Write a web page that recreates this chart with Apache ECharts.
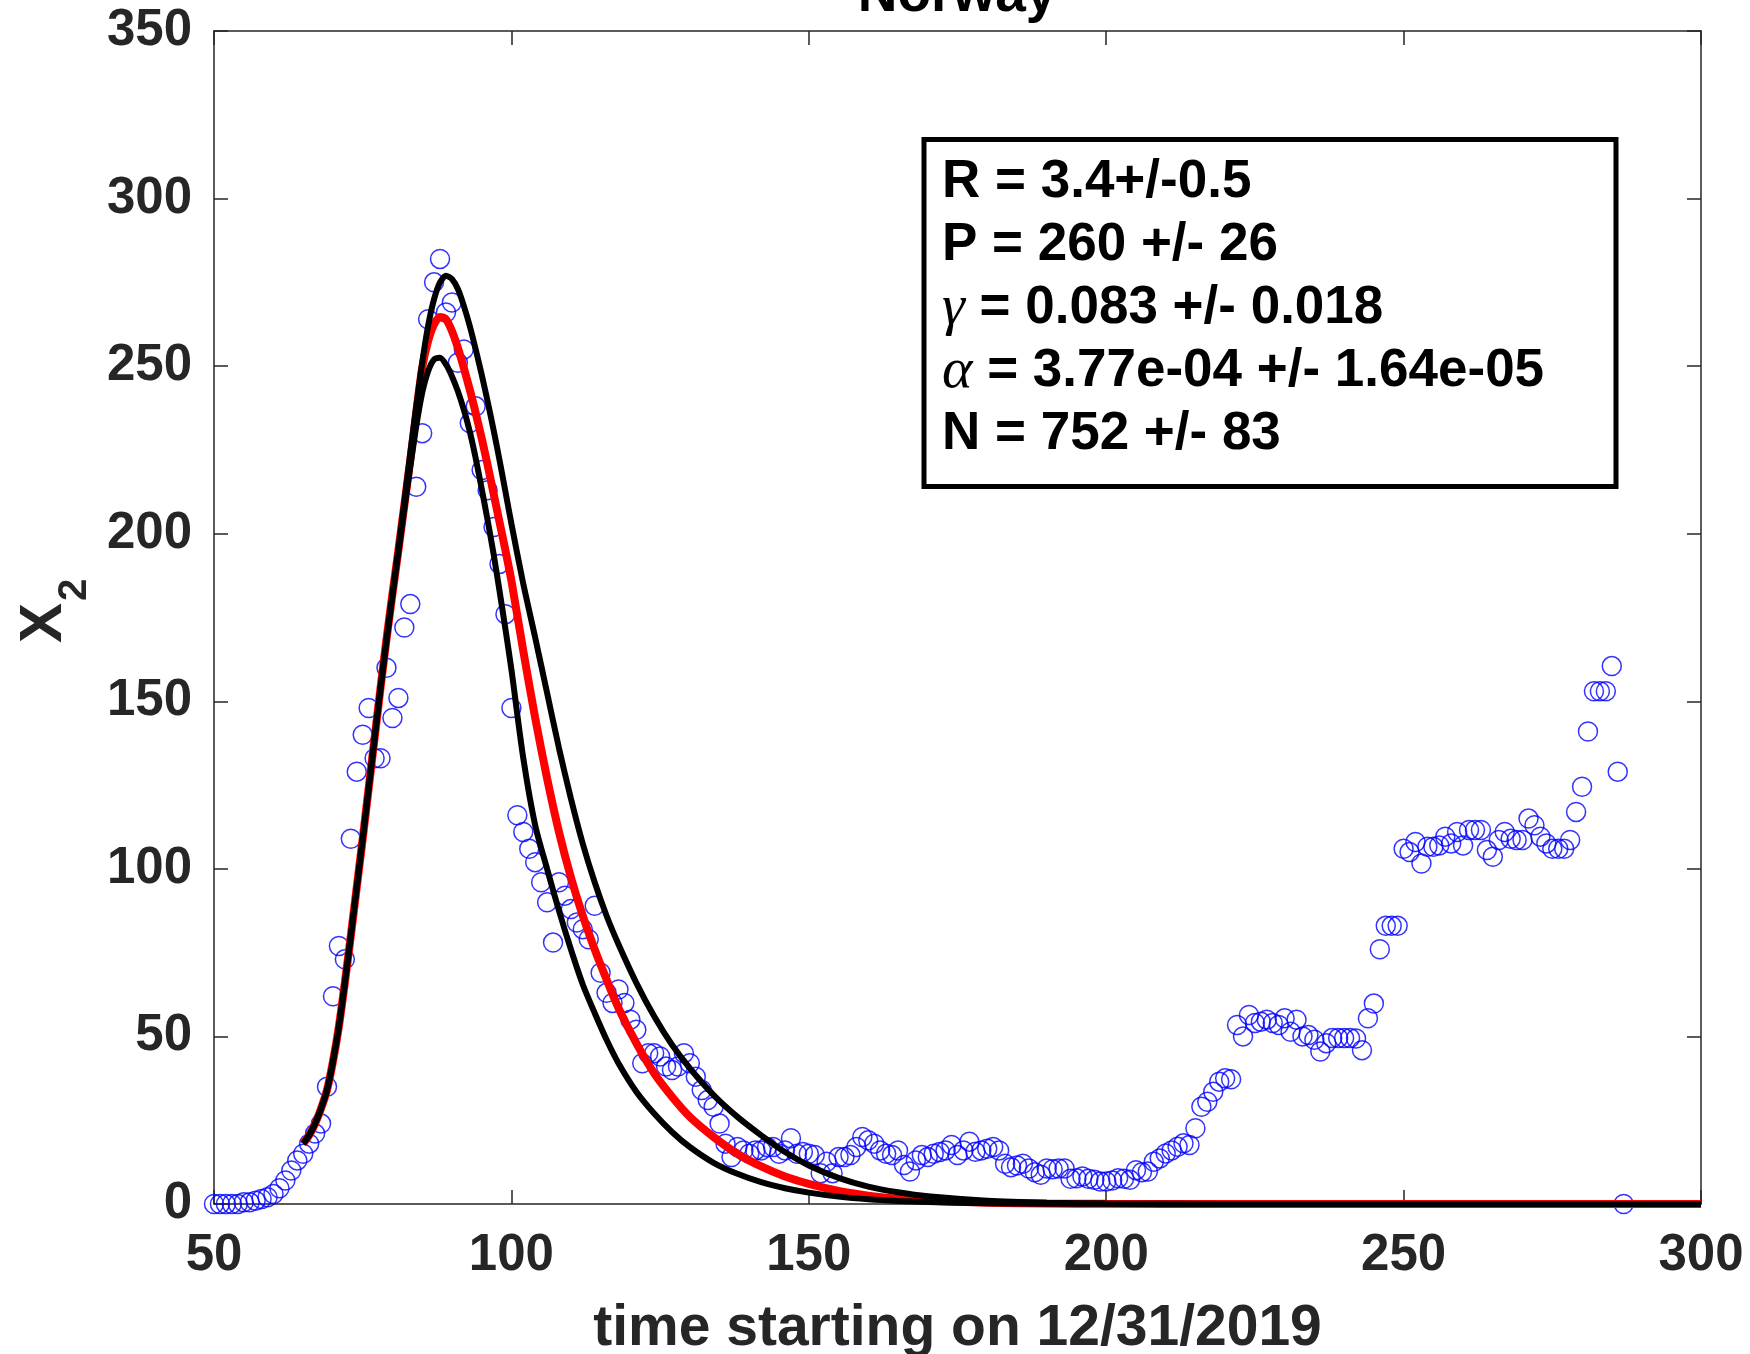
<!DOCTYPE html>
<html>
<head>
<meta charset="utf-8">
<script src="https://cdn.jsdelivr.net/npm/echarts@6/dist/echarts.min.js"></script>
<style>
html,body{margin:0;padding:0;background:#fff;}
#chart{width:1750px;height:1354px;}
</style>
</head>
<body>
<div id="chart"></div>
<script>
// ---------- data ----------
const titleText = 'Norway';
const xAxisTitle = 'time starting on 12/31/2019';
const xTicks = [50, 100, 150, 200, 250, 300];
const yTicks = [0, 50, 100, 150, 200, 250, 300, 350];

const obsDays = [
  50,51,52,53,54,55,56,57,58,59,
  60,61,62,63,64,65,66,67,68,69,
  70,71,72,73,74,75,76,77,78,79,
  80,81,82,83,84,85,86,87,88,89,
  90,91,92,93,94,95,96,97,98,99,
  100,101,102,103,104,105,106,107,108,109,
  110,111,112,113,114,115,116,117,118,119,
  120,121,122,123,124,125,126,127,128,129,
  130,131,132,133,134,135,136,137,138,139,
  140,141,142,143,144,145,146,147,148,149,
  150,151,152,153,154,155,156,157,158,159,
  160,161,162,163,164,165,166,167,168,169,
  170,171,172,173,174,175,176,177,178,179,
  180,181,182,183,184,185,186,187,188,189,
  190,191,192,193,194,195,196,197,198,199,
  200,201,202,203,204,205,206,207,208,209,
  210,211,212,213,214,215,216,217,218,219,
  220,221,222,223,224,225,226,227,228,229,
  230,231,232,233,234,235,236,237,238,239,
  240,241,242,243,244,245,246,247,248,249,
  250,251,252,253,254,255,256,257,258,259,
  260,261,262,263,264,265,266,267,268,269,
  270,271,272,273,274,275,276,277,278,279,
  280,281,282,283,284,285,286,287
];
const obsValues = [
  0,0,0,0,0,0.5,0.5,1,1.5,2,
  3,4.7,7,10,13,15,18,21,24,35,
  62,77,73,109,129,140,148,133,133,160,
  145,151,172,179,214,230,264,275,282,266,
  269,251,255,233,238,219,213,202,191,176,
  148,116,111,106,102,96,90,78,96,92,
  88,84,82,79,89,69,63,60,64,60,
  55,52,42,45,45,44,41,40,41,45,
  42,38,34,31,29,24,18,14,17,16,
  15,16,16,17,17,15,16,19.6,15,15.5,
  15,14.6,9.2,12.6,9.2,14,14,14.6,17,20,
  19,18,16,15,14.6,16,11.6,9.7,13,14.6,
  14,15,15.5,16,17.6,14.6,16,18.6,15.6,16,
  16.5,17,16,12,11,11.5,12,10.6,9.5,8.7,
  10.6,10.4,10.6,10.6,7.5,7.7,8.2,7.5,7.2,6.7,
  6.7,7,7.7,7.5,7.2,10.1,9.5,9.7,12.6,13.6,
  15.1,16,17.1,18.1,17.6,22.6,29,30.5,33.5,36.5,
  37.5,37.2,53.4,50,56.4,54,54.4,55,54,53.4,
  55.4,51.4,55,50,50.4,49,45.5,48,49.5,49.5,
  49.5,49.5,49.4,45.9,55.4,59.8,76,83,83,83,
  106,105,108,101.6,106.6,106.6,107,109.6,107.6,111,
  107,111.6,111.6,111.6,105.6,103.6,108.6,111,109,108.6,
  108.6,115,113,109.6,107.6,106,106,106,108.6,117,
  124.5,141,153,153,153,160.5,129,0
];

const fitDays = [
  65,66,67,68,69,70,71,72,73,74,75,76,77,78,79,80,81,82,
  83,84,85,86,87,88,89,90,91,92,93,94,95,96,97,98,99,100,
  102,104,106,108,110,112,114,116,
  118,121,124,127,130,134,138,142,146,150,155,160,165,170,180,190,200,220,250,300
];
const fitMid = [
  18,20.5,24,28.5,34,42.5,53,66,80,94.5,109,124,139,154,168.5,182,195,208.5,
  222,236,249.5,257.5,262.5,264.7,264,260.5,255.5,249.5,243,236,228.5,220.5,212,203.5,195,186,
  165,145,127,111,97.5,86,76,67,
  58.5,48,39,32,26,20,15,11.2,8.2,6,3.9,2.5,1.6,1,0.4,0.15,0.06,0.01,0,0
];
const fitUpper = [
  18,20.5,24,28.5,34,42.5,53,66,80,94.5,109,124,139,154,168.5,182,195.5,209.5,
  224,238,251,262,270,275,277,276,273,268,262,255,247.5,239.5,231,222,212.5,203,
  185,169,152.5,136,121,107.5,96,86,
  77.5,66,56,47.5,40.5,32.5,26,20.5,15.5,11.5,7.8,5.2,3.5,2.3,1,0.4,0.15,0.02,0,0
];
const fitLower = [
  18,20.5,24,28.5,34,42.5,53,66,80,94.5,109,124,139,154,168,181.5,194.5,207.5,
  220,232,242,248.5,252,252.5,250.5,247,242.5,237,230.5,222.5,213.5,204,194,183,171.5,159.5,
  133,113,100,87.5,76,65.5,57,49,
  42,33.5,27,21.5,17,12.3,9,6.5,4.7,3.4,2.2,1.4,0.9,0.6,0.25,0.1,0.04,0,0,0
];

const paramLines = [
  ['', 'R = 3.4+/-0.5'],
  ['', 'P = 260 +/- 26'],
  ['γ', ' = 0.083 +/- 0.018'],
  ['α', ' = 3.77e-04 +/- 1.64e-05'],
  ['', 'N = 752 +/- 83']
];

// ---------- build ----------
const pairs = (xs, ys) => xs.map((x, i) => [x, ys[i]]);
const axisColor = '#262626';
const sans = 'Liberation Sans, Arial, Helvetica, sans-serif';

const chart = echarts.init(document.getElementById('chart'), null, {renderer: 'canvas'});

const legendGraphics = [{
  type: 'rect',
  shape: {x: 924, y: 139.5, width: 692, height: 347},
  style: {fill: '#fff', stroke: '#000', lineWidth: 5},
  z: 100
}];
const lineMid = [182.5, 245.5, 308.5, 371.5, 434.5];
paramLines.forEach((p, i) => {
  const txt = p[0] ? '{g|' + p[0] + '}{t|' + p[1] + '}' : '{t|' + p[1] + '}';
  legendGraphics.push({
    type: 'text',
    x: 942, y: lineMid[i],
    z: 101,
    style: {
      text: txt,
      align: 'left',
      verticalAlign: 'middle',
      rich: {
        g: {fontFamily: 'Liberation Serif, Times New Roman, serif', fontStyle: 'italic', fontSize: 58, fill: '#000'},
        t: {fontFamily: sans, fontWeight: 'bold', fontSize: 53, fill: '#000'}
      }
    }
  });
});

const baseAxis = {
  type: 'value',
  axisLine: {show: true, onZero: false, lineStyle: {color: axisColor, width: 1.5}},
  axisTick: {show: true, inside: true, length: 14, lineStyle: {color: axisColor, width: 1.5}},
  splitLine: {show: false}
};

const option = {
  animation: false,
  backgroundColor: '#fff',
  grid: {left: 214, right: 49, top: 31, bottom: 150, containLabel: false, outerBoundsMode: 'none'},
  xAxis: [Object.assign({}, baseAxis, {
    min: xTicks[0], max: xTicks[xTicks.length - 1], interval: 50,
    position: 'bottom',
    axisLabel: {fontSize: 51, fontWeight: 'bold', fontFamily: sans, color: axisColor, margin: 26},
    name: xAxisTitle, nameLocation: 'middle', nameGap: 97,
    nameTextStyle: {fontSize: 57, fontWeight: 'bold', fontFamily: sans, color: axisColor}
  }), Object.assign({}, baseAxis, {
    min: xTicks[0], max: xTicks[xTicks.length - 1], interval: 50,
    position: 'top',
    axisLabel: {show: false}
  })],
  yAxis: [Object.assign({}, baseAxis, {
    min: yTicks[0], max: yTicks[yTicks.length - 1], interval: 50,
    position: 'left',
    axisLabel: {fontSize: 51, fontWeight: 'bold', fontFamily: sans, color: axisColor, margin: 22}
  }), Object.assign({}, baseAxis, {
    min: yTicks[0], max: yTicks[yTicks.length - 1], interval: 50,
    position: 'right',
    axisLabel: {show: false}
  })],
  series: [{
    type: 'scatter',
    xAxisIndex: 0, yAxisIndex: 0,
    data: pairs(obsDays, obsValues),
    symbol: 'circle',
    symbolSize: 19,
    itemStyle: {color: 'rgba(0,0,0,0)', borderColor: '#0000ff', borderWidth: 1.5},
    z: 2
  }, {
    type: 'line',
    xAxisIndex: 0, yAxisIndex: 0,
    data: pairs(fitDays, fitMid),
    showSymbol: false, symbol: 'none',
    smooth: 0.25,
    lineStyle: {color: '#ff0000', width: 8},
    z: 3
  }, {
    type: 'line',
    xAxisIndex: 0, yAxisIndex: 0,
    data: pairs(fitDays, fitUpper),
    showSymbol: false, symbol: 'none',
    smooth: 0.25,
    lineStyle: {color: '#000000', width: 6},
    z: 4
  }, {
    type: 'line',
    xAxisIndex: 0, yAxisIndex: 0,
    data: pairs(fitDays, fitLower),
    showSymbol: false, symbol: 'none',
    smooth: 0.25,
    lineStyle: {color: '#000000', width: 6},
    z: 4
  }],
  graphic: [
    {
      type: 'text', x: 957, y: -4, z: 50,
      style: {text: titleText, align: 'center', verticalAlign: 'middle',
        fontFamily: sans, fontWeight: 'bold', fontSize: 55, fill: '#000'}
    },
    {
      type: 'text', x: 44.5, y: 623, rotation: Math.PI / 2, z: 50,
      style: {text: 'X', align: 'center', verticalAlign: 'middle',
        fontFamily: sans, fontWeight: 'bold', fontSize: 60, fill: axisColor}
    },
    {
      type: 'text', x: 75, y: 590, rotation: Math.PI / 2, z: 50,
      style: {text: '2', align: 'center', verticalAlign: 'middle',
        fontFamily: sans, fontWeight: 'bold', fontSize: 40, fill: axisColor}
    }
  ].concat(legendGraphics)
};
chart.setOption(option);
</script>
</body>
</html>
